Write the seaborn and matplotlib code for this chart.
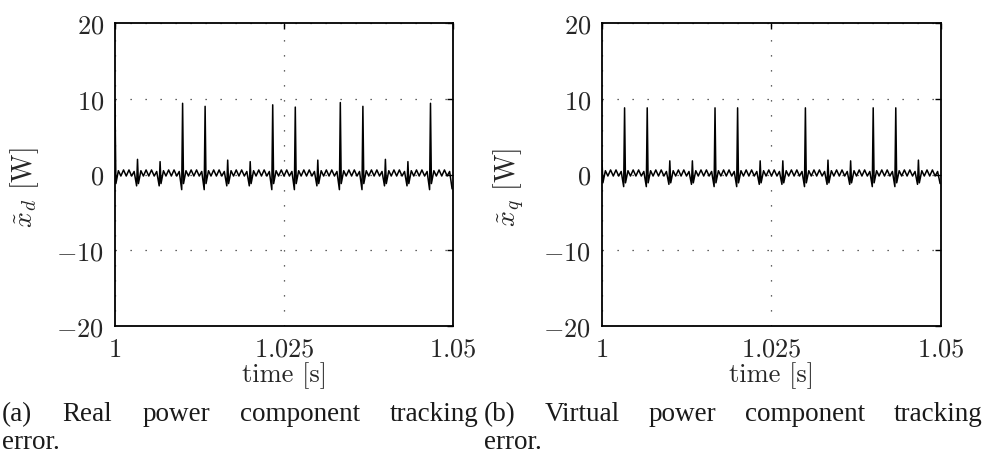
import matplotlib
matplotlib.use("Agg")
import numpy as np
import pandas as pd
import seaborn as sns
import matplotlib.pyplot as plt

# spike instants (s), last entry = window end
SPIKE_T = [1.0, 1.00333, 1.00667, 1.01, 1.01333, 1.01667, 1.02, 1.02333,
           1.02667, 1.03, 1.03333, 1.03667, 1.04, 1.04333, 1.04667, 1.05]

# (a) real power component: spike tops and the dip just before each next spike
PEAK_A = [9.3, 2.0, 1.7, 9.4, 9.0, 1.9, 1.7, 9.2, 8.9, 1.9, 9.5, 9.0, 2.0, 1.7, 9.4]
DIP_A = [-1.5, -1.5, -2.0, -2.0, -1.5, -1.5, -2.0, -2.0, -1.5, -2.0, -2.0, -1.5, -1.5, -2.0, -1.9]

# (b) virtual power component
PEAK_B = [1.8, 8.8, 8.8, 1.8, 1.8, 8.8, 8.8, 1.8, 1.8, 8.8, 1.9, 1.8, 8.8, 8.8, 1.9]
DIP_B = [-1.6, -1.6, -1.3, -1.3, -1.6, -1.6, -1.3, -1.3, -1.6, -1.3, -1.3, -1.6, -1.6, -1.3, -1.2]

# ripple between two spikes (fraction of the spike interval, value in W)
RIPPLE_PHASE = [0.04, 0.15, 0.26, 0.38, 0.50, 0.62, 0.74, 0.85]
RIPPLE_A = [-1.2, 0.5, -0.2, 0.6, -0.2, 0.6, -0.2, 0.4]
RIPPLE_B = [-1.1, 0.5, -0.2, 0.6, -0.2, 0.6, -0.2, 0.4]
DIP_PHASE = 0.96

Y_TICKS = [-20, -10, 0, 10, 20]
Y_TICK_LABELS = ["$-20$", "$-10$", "$0$", "$10$", "$20$"]
X_TICKS = [1.0, 1.025, 1.05]
X_TICK_LABELS = ["$1$", "$1.025$", "$1.05$"]

YLABELS = [r"$\tilde{x}_d$ [W]", r"$\tilde{x}_q$ [W]"]
CAPTION_A = ["(a) Real power component tracking".split(), ["error."]]
CAPTION_B = ["(b) Virtual power component tracking".split(), ["error."]]


def build_trace(peaks, dips, ripple):
    t, v = [], []
    for k in range(len(peaks)):
        t0, t1 = SPIKE_T[k], SPIKE_T[k + 1]
        t.append(t0)
        v.append(peaks[k])
        for ph, r in zip(RIPPLE_PHASE, ripple):
            t.append(t0 + ph * (t1 - t0))
            v.append(r)
        t.append(t0 + DIP_PHASE * (t1 - t0))
        v.append(dips[k])
    return pd.DataFrame({"time": t, "err": v})


def place_words(fig, words, x0, x1, y, justify=True, **kw):
    """lay words on a line from x0 to x1 (pixels), stretched like LaTeX does"""
    texts = [fig.text(0, y, w, va="baseline", **kw) for w in words]
    fig.canvas.draw()
    r = fig.canvas.get_renderer()
    widths = [t.get_window_extent(r).width for t in texts]
    W = fig.bbox.width
    if justify and len(words) > 1:
        gap = ((x1 - x0) - sum(widths)) / (len(words) - 1)
    else:
        gap = 0
    x = x0
    for t, w in zip(texts, widths):
        t.set_x(x / W)
        x += w + gap


sns.set_style("white")
plt.rcParams["font.family"] = ["cmr10", "DejaVu Serif"]
plt.rcParams["mathtext.fontset"] = "cm"
plt.rcParams["axes.unicode_minus"] = False

fig = plt.figure(figsize=(9.85, 4.6), dpi=100)
ax_a = fig.add_axes([115 / 985, 1 - 327 / 460, 338 / 985, 303 / 460])
ax_b = fig.add_axes([602 / 985, 1 - 327 / 460, 339 / 985, 303 / 460])

traces = [build_trace(PEAK_A, DIP_A, RIPPLE_A), build_trace(PEAK_B, DIP_B, RIPPLE_B)]

for ax, df, ylab in zip([ax_a, ax_b], traces, YLABELS):
    sns.lineplot(data=df, x="time", y="err", ax=ax, color="black", lw=1.1,
                 estimator=None, sort=False)
    ax.set_xlim(1.0, 1.05)
    ax.set_ylim(-20, 20)
    ax.set_xticks(X_TICKS)
    ax.set_xticklabels(X_TICK_LABELS)
    ax.set_yticks(Y_TICKS)
    ax.set_yticklabels(Y_TICK_LABELS)
    ax.tick_params(direction="in", top=True, right=True, length=4, width=1,
                   labelsize=19, color="black")
    ax.tick_params(axis="x", pad=8)
    ax.tick_params(axis="y", pad=8)
    ax.grid(True, color="#333333", linestyle=(0, (1, 11)), lw=0.9)
    for s in ax.spines.values():
        s.set_visible(True)
        s.set_color("black")
        s.set_linewidth(1.3)
    ax.set_xlabel("time [s]", fontsize=19)
    ax.set_ylabel(ylab, fontsize=20)
    ax.xaxis.set_label_coords(0.5, -0.115)
    ax.yaxis.set_label_coords(-0.22, 0.46)

cap_kw = dict(fontsize=19.5, family="Liberation Serif", color="#1a1a1a")
place_words(fig, CAPTION_A[0], 2, 479, 1 - 421 / 460, **cap_kw)
place_words(fig, CAPTION_A[1], 2, 479, 1 - 449 / 460, justify=False, **cap_kw)
place_words(fig, CAPTION_B[0], 484, 983, 1 - 421 / 460, **cap_kw)
place_words(fig, CAPTION_B[1], 484, 983, 1 - 449 / 460, justify=False, **cap_kw)

fig.savefig("out.png", dpi=100)
